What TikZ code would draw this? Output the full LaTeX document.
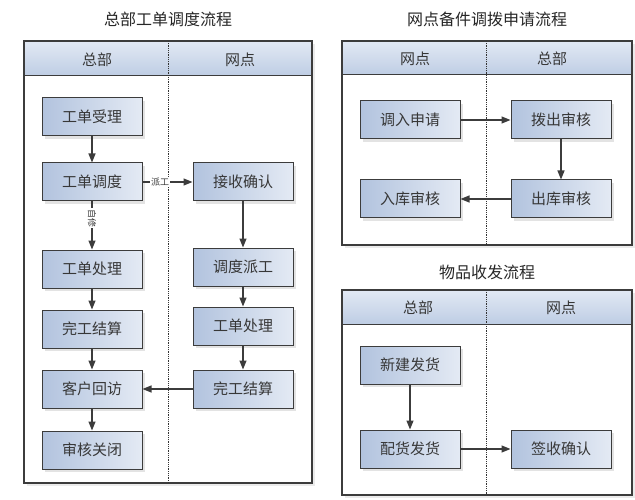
\documentclass[tikz,border=0pt]{standalone}
\usepackage{fontspec}
\setmainfont{Noto Sans CJK SC}
\usetikzlibrary{arrows.meta,shadows}
\definecolor{boxL}{RGB}{178,195,222}
\definecolor{boxR}{RGB}{228,234,244}
\definecolor{hdT}{RGB}{226,233,244}
\definecolor{hdB}{RGB}{190,205,228}
\definecolor{edge}{RGB}{60,60,60}
\definecolor{txt}{RGB}{55,55,55}
\begin{document}
\begin{tikzpicture}[x=1pt,y=-1pt,
  stepbox/.style={rectangle, minimum width=100pt, minimum height=38pt, draw=edge, line width=1pt,
    left color=boxL, right color=boxR, text=txt, font=\fontsize{15}{15}\selectfont,
    drop shadow={shadow xshift=3pt, shadow yshift=-3pt, fill=black!18, opacity=0.6}},
  header/.style={draw=edge, line width=1pt, top color=hdT, bottom color=hdB},
  frame/.style={draw=edge, line width=1.2pt},
  lane/.style={text=txt, font=\fontsize{15}{15}\selectfont},
  ttl/.style={text=black!85, font=\fontsize{16}{16}\selectfont},
  divider/.style={densely dotted, line width=0.8pt, black!80},
  flow/.style={-{Triangle[length=9pt,width=7pt]}, line width=1.2pt, edge},
  small/.style={fill=white, inner sep=1pt, text=txt, font=\fontsize{9}{9}\selectfont}
]
\useasboundingbox (0,0) rectangle (635,500);

% ---------- Pool 1 ----------
\node[ttl] (t1) at (168,19) {总部工单调度流程};
\fill[black!8] (27,44) rectangle (315,486);
\fill[white] (24,41) rectangle (312,483);
\draw[header] (24,41) rectangle (312,76);
\draw[frame] (24,41) rectangle (312,483);
\draw[divider] (168,41) -- (168,483);
\node[lane] (h1a) at (97,60) {总部};
\node[lane] (h1b) at (240,60) {网点};

\node[stepbox] (a1) at (92,117) {工单受理};
\node[stepbox] (a2) at (92,182) {工单调度};
\node[stepbox] (a3) at (92,269) {工单处理};
\node[stepbox] (a4) at (92,329) {完工结算};
\node[stepbox] (a5) at (92,389) {客户回访};
\node[stepbox] (a6) at (92,450) {审核关闭};
\node[stepbox] (b1) at (243,182) {接收确认};
\node[stepbox] (b2) at (243,267) {调度派工};
\node[stepbox] (b3) at (243,326) {工单处理};
\node[stepbox] (b4) at (243,389) {完工结算};

\draw[flow] (a1) -- (a2);
\draw[flow] (a2) -- node[small, rotate=-90, pos=0.35] {自修} (a3);
\draw[flow] (a3) -- (a4);
\draw[flow] (a4) -- (a5);
\draw[flow] (a5) -- (a6);
\draw[flow] (a2) -- node[small, pos=0.35] {派工} (b1);
\draw[flow] (b1) -- (b2);
\draw[flow] (b2) -- (b3);
\draw[flow] (b3) -- (b4);
\draw[flow] (b4) -- (a5);

% ---------- Pool 2 ----------
\node[ttl] (t2) at (487,19) {网点备件调拨申请流程};
\fill[black!8] (345,44) rectangle (635,248);
\fill[white] (342,41) rectangle (632,245);
\draw[header] (342,41) rectangle (632,75);
\draw[frame] (342,41) rectangle (632,245);
\draw[divider] (486,41) -- (486,245);
\node[lane] (h2a) at (415,59) {网点};
\node[lane] (h2b) at (552,59) {总部};

\node[stepbox] (c1) at (410,120) {调入申请};
\node[stepbox] (c2) at (561,120) {拨出审核};
\node[stepbox] (c3) at (561,199) {出库审核};
\node[stepbox] (c4) at (410,199) {入库审核};
\draw[flow] (c1) -- (c2);
\draw[flow] (c2) -- (c3);
\draw[flow] (c3) -- (c4);

% ---------- Pool 3 ----------
\node[ttl] (t3) at (487,272) {物品收发流程};
\fill[black!8] (345,293) rectangle (635,498);
\fill[white] (342,290) rectangle (632,495);
\draw[header] (342,290) rectangle (632,324);
\draw[frame] (342,290) rectangle (632,495);
\draw[divider] (486,290) -- (486,495);
\node[lane] (h3a) at (418,308) {总部};
\node[lane] (h3b) at (561,308) {网点};

\node[stepbox] (d1) at (410,365) {新建发货};
\node[stepbox] (d2) at (410,449) {配货发货};
\node[stepbox] (d3) at (561,449) {签收确认};
\draw[flow] (d1) -- (d2);
\draw[flow] (d2) -- (d3);
\end{tikzpicture}
\end{document}
